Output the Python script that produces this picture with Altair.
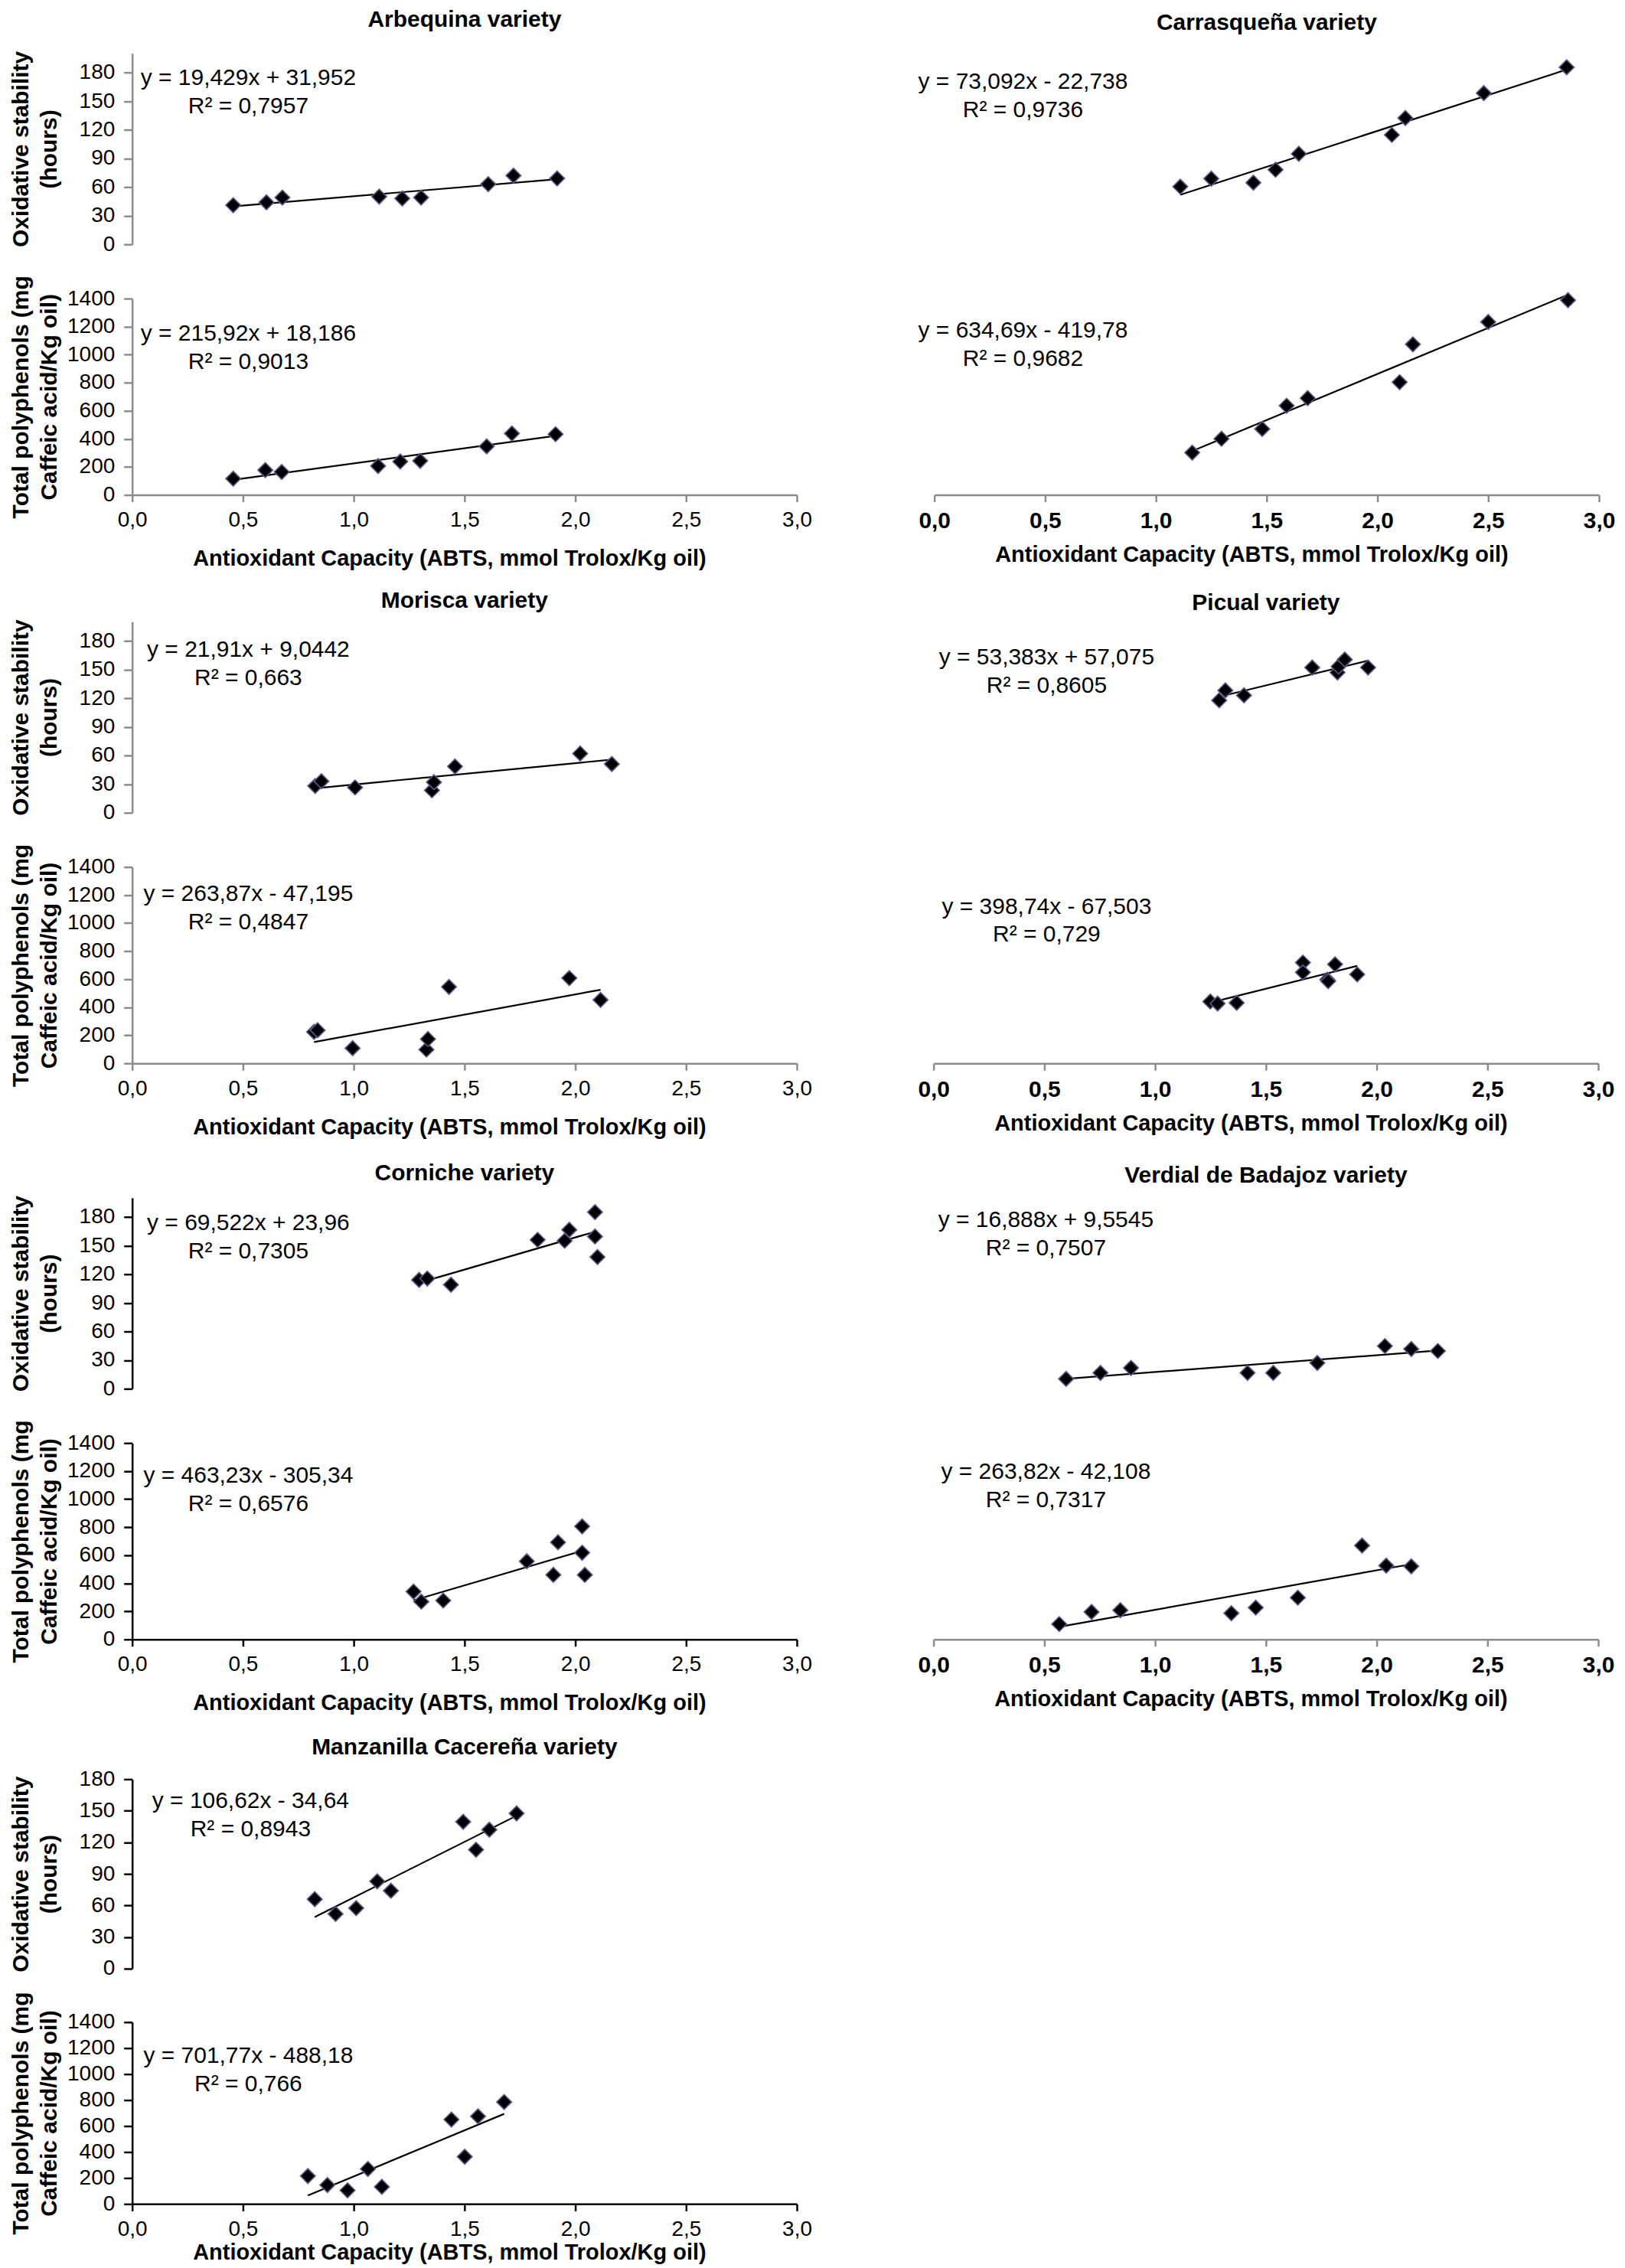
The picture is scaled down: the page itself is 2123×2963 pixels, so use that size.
import altair as alt
import pandas as pd

FONT = "Liberation Sans, Arial, Helvetica, sans-serif"
GRAY = "#8c8c8c"
BLACK = "#000000"
W = 870

X_TICKS = [0, 0.5, 1.0, 1.5, 2.0, 2.5, 3.0]
OS_TICKS = [0, 30, 60, 90, 120, 150, 180]
TP_TICKS = [0, 200, 400, 600, 800, 1000, 1200, 1400]
X_TITLE = "Antioxidant Capacity (ABTS, mmol Trolox/Kg oil)"
OS_TITLE = ["Oxidative stability", "(hours)"]
TP_TITLE = ["Total polyphenols (mg", "Caffeic acid/Kg oil)"]

# ---------------- data ----------------
ARB_OS_X = [0.456, 0.606, 0.678, 1.115, 1.219, 1.304, 1.607, 1.721, 1.918]
ARB_OS_Y = [41, 44, 49, 50, 48, 49, 63, 72, 69]
ARB_TP_X = [0.456, 0.601, 0.675, 1.110, 1.210, 1.300, 1.600, 1.714, 1.911]
ARB_TP_Y = [116, 177, 164, 206, 238, 243, 346, 438, 433]
ARB_EQ = [["y = 19,429x + 31,952", "R² = 0,7957"], ["y = 215,92x + 18,186", "R² = 0,9013"]]

CAR_OS_X = [1.11, 1.25, 1.44, 1.54, 1.645, 2.065, 2.126, 2.48, 2.854]
CAR_OS_Y = [67, 75, 71, 84, 100, 119, 136, 161, 187]
CAR_TP_X = [1.164, 1.296, 1.48, 1.59, 1.685, 2.10, 2.16, 2.50, 2.86]
CAR_TP_Y = [308, 404, 472, 633, 685, 796, 1058, 1213, 1364]
CAR_EQ = [["y = 73,092x - 22,738", "R² = 0,9736"], ["y = 634,69x - 419,78", "R² = 0,9682"]]

MOR_OS_X = [0.826, 0.854, 1.006, 1.353, 1.362, 1.457, 2.022, 2.165]
MOR_OS_Y = [28, 33, 26.5, 23.5, 32, 48.5, 62, 51]
MOR_TP_X = [0.821, 0.837, 0.995, 1.328, 1.335, 1.43, 1.973, 2.114]
MOR_TP_Y = [224, 236, 108, 98, 173, 545, 608, 452]
MOR_EQ = [["y = 21,91x + 9,0442", "R² = 0,663"], ["y = 263,87x - 47,195", "R² = 0,4847"]]

PIC_OS_X = [1.289, 1.317, 1.401, 1.709, 1.823, 1.828, 1.856, 1.961]
PIC_OS_Y = [122, 132, 127, 155, 150, 156, 163, 155]
PIC_TP_X = [1.249, 1.282, 1.368, 1.667, 1.667, 1.777, 1.781, 1.812, 1.912]
PIC_TP_Y = [443, 429, 434, 713, 645, 595, 584, 701, 631]
PIC_EQ = [["y = 53,383x + 57,075", "R² = 0,8605"], ["y = 398,74x - 67,503", "R² = 0,729"]]

COR_OS_X = [1.295, 1.332, 1.439, 1.830, 1.952, 1.973, 2.089, 2.089, 2.10]
COR_OS_Y = [114, 115.5, 109, 156, 155, 166.5, 185, 159.5, 138]
COR_TP_X = [1.27, 1.305, 1.404, 1.781, 1.901, 1.922, 2.031, 2.031, 2.043]
COR_TP_Y = [341, 269, 277, 557, 460, 692, 806, 618, 460]
COR_EQ = [["y = 69,522x + 23,96", "R² = 0,7305"], ["y = 463,23x - 305,34", "R² = 0,6576"]]

VER_OS_X = [0.598, 0.753, 0.891, 1.417, 1.533, 1.732, 2.037, 2.156, 2.276]
VER_OS_Y = [19, 25, 30, 25, 25, 35, 52, 49, 47]
VER_TP_X = [0.567, 0.713, 0.843, 1.344, 1.454, 1.644, 1.934, 2.043, 2.156]
VER_TP_Y = [121, 205, 217, 196, 235, 304, 665, 526, 521]
VER_EQ = [["y = 16,888x + 9,5545", "R² = 0,7507"], ["y = 263,82x - 42,108", "R² = 0,7317"]]

MAN_OS_X = [0.824, 0.918, 1.011, 1.106, 1.168, 1.494, 1.552, 1.612, 1.735]
MAN_OS_Y = [66, 52, 57.5, 83, 74, 139.5, 113, 132, 147.5]
MAN_TP_X = [0.793, 0.881, 0.972, 1.064, 1.127, 1.441, 1.501, 1.561, 1.679]
MAN_TP_Y = [215, 146, 105, 270, 132, 650, 364, 675, 785]
MAN_EQ = [["y = 106,62x - 34,64", "R² = 0,8943"], ["y = 701,77x - 488,18", "R² = 0,766"]]

ONE = pd.DataFrame({"n": [0]})


def eq_text(line, tx, ty):
    return alt.Chart(ONE).mark_text(
        text=line, font=FONT, fontSize=30, align="center",
        baseline="alphabetic", color="black").encode(x=alt.value(tx), y=alt.value(ty))


def panel(xs, ys, eq, kind, side, color, height, ydomain, tx, ty,
          title=None, toff=30, xtpad=22):
    df = pd.DataFrame({"x": xs, "y": ys})
    if kind == "tp":
        xaxis = alt.Axis(
            values=X_TICKS,
            labelExpr="replace(format(datum.value, '.1f'), '.', ',')",
            title=X_TITLE, titleFont=FONT, titleFontSize=29, titleFontWeight="bold",
            titleColor="black", titlePadding=xtpad, titleX=415, titleAlign="center",
            labelFont=FONT, labelFontSize=30 if side == "right" else 28,
            labelFontWeight="bold" if side == "right" else "normal",
            labelColor="black", labelPadding=10, labelFlush=False, labelOverlap=False,
            tickSize=9, tickColor=color, tickWidth=2.5,
            domainColor=color, domainWidth=2.5, grid=False,
        )
    else:
        xaxis = None
    if side == "left":
        yaxis = alt.Axis(
            values=OS_TICKS if kind == "os" else TP_TICKS, format="d",
            title=OS_TITLE if kind == "os" else TP_TITLE,
            titleFont=FONT, titleFontSize=30, titleFontWeight="bold", titleColor="black",
            titleLineHeight=37, titleX=-130, titleBaseline="bottom",
            labelFont=FONT, labelFontSize=28, labelColor="black", labelPadding=12,
            tickSize=11, tickColor=color, tickWidth=2.5,
            domainColor=color, domainWidth=2.5, grid=False,
        )
    else:
        yaxis = None
    xenc = alt.X("x:Q", scale=alt.Scale(domain=[0, 3], nice=False, zero=False), axis=xaxis)
    yenc = alt.Y("y:Q", scale=alt.Scale(domain=ydomain, nice=False, zero=False), axis=yaxis)
    base = alt.Chart(df)
    line = base.transform_regression("x", "y").mark_line(
        color="black", strokeWidth=2.2).encode(x=xenc, y=yenc)
    pts = base.mark_point(shape="diamond", filled=True, fill="black", stroke="#5a5a8c",
                          strokeWidth=1.6, size=380, opacity=1).encode(x=xenc, y=yenc)
    t1 = eq_text(eq[0], tx, ty)
    t2 = eq_text(eq[1], tx, ty + 37)
    ch = alt.layer(line, pts, t1, t2).properties(width=W, height=height)
    if title is not None:
        ch = ch.properties(title=alt.TitleParams(
            text=title, font=FONT, fontSize=30, fontWeight="bold", color="black",
            anchor="middle", baseline="alphabetic", offset=toff))
    return ch


def block(name, d, side, color, eqpos, toff, last=False):
    osx, osy, tpx, tpy, eqs = d
    if last:
        os_dom, tp_dom, hos, htp, gap, xtpad = [0, 180], [0, 1400], 248, 238, 70, 2
    elif side == "left":
        os_dom, tp_dom, hos, htp, gap, xtpad = [0, 200], [0, 1400], 250, 257, 71, 22
    else:
        os_dom, tp_dom, hos, htp, gap, xtpad = [9, 201], [15, 1375], 250, 257, 71, 15
    p1 = panel(osx, osy, eqs[0], "os", side, color, hos, os_dom,
               eqpos[0][0], eqpos[0][1], title=name, toff=toff)
    p2 = panel(tpx, tpy, eqs[1], "tp", side, color, htp, tp_dom,
               eqpos[1][0], eqpos[1][1], xtpad=xtpad)
    return alt.vconcat(p1, p2, spacing=gap, bounds="flush")


ARB = (ARB_OS_X, ARB_OS_Y, ARB_TP_X, ARB_TP_Y, ARB_EQ)
CAR = (CAR_OS_X, CAR_OS_Y, CAR_TP_X, CAR_TP_Y, CAR_EQ)
MOR = (MOR_OS_X, MOR_OS_Y, MOR_TP_X, MOR_TP_Y, MOR_EQ)
PIC = (PIC_OS_X, PIC_OS_Y, PIC_TP_X, PIC_TP_Y, PIC_EQ)
COR = (COR_OS_X, COR_OS_Y, COR_TP_X, COR_TP_Y, COR_EQ)
VER = (VER_OS_X, VER_OS_Y, VER_TP_X, VER_TP_Y, VER_EQ)
MAN = (MAN_OS_X, MAN_OS_Y, MAN_TP_X, MAN_TP_Y, MAN_EQ)

COL_GAP = 138

row1 = alt.hconcat(
    block("Arbequina variety", ARB, "left", GRAY, [(152, 41), (152, 55)], 1),
    block("Carrasqueña variety", CAR, "right", GRAY, [(116, 46), (116, 51)], 1),
    spacing=COL_GAP)
row2 = alt.hconcat(
    block("Morisca variety", MOR, "left", GRAY, [(152, 46), (152, 44)], -15),
    block("Picual variety", PIC, "right", GRAY, [(148, 56), (148, 61)], -15),
    spacing=COL_GAP)
row3 = alt.hconcat(
    block("Corniche variety", COR, "left", BLACK, [(152, 42), (152, 52)], -10),
    block("Verdial de Badajoz variety", VER, "right", GRAY, [(147, 38), (147, 47)], -10),
    spacing=COL_GAP)
row4 = block("Manzanilla Cacereña variety", MAN, "left", BLACK, [(155, 38), (152, 53)], -12, last=True)

chart = alt.vconcat(
    alt.vconcat(row1, row2, spacing=25),
    alt.vconcat(row3, row4, spacing=29),
    spacing=30,
).properties(
    padding={"left": 5, "top": 0, "right": 5, "bottom": 0},
    background="white",
).configure_view(stroke=None)

chart.save("out.html", embed_options={"renderer": "svg", "actions": False})
